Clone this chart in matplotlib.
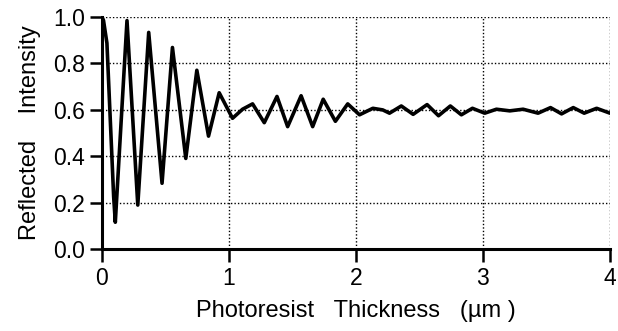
import matplotlib
matplotlib.use("Agg")
import matplotlib.pyplot as plt

# values (extrema and a few shoulder points)
thickness = [0.000, 0.012, 0.039, 0.092, 0.105, 0.197, 0.282, 0.368, 0.473,
             0.555, 0.660, 0.747, 0.839, 0.923, 1.028, 1.107, 1.186, 1.278,
             1.378, 1.462, 1.568, 1.659, 1.742, 1.838, 1.935, 2.028, 2.133,
             2.211, 2.264, 2.357, 2.450, 2.560, 2.650, 2.743, 2.830, 2.917,
             3.014, 3.106, 3.211, 3.316, 3.434, 3.532, 3.619, 3.711, 3.797,
             3.895, 4.000]
reflectance = [1.000, 0.985, 0.887, 0.225, 0.115, 0.984, 0.189, 0.933, 0.283,
               0.868, 0.390, 0.770, 0.486, 0.673, 0.563, 0.602, 0.625, 0.544,
               0.657, 0.527, 0.660, 0.527, 0.645, 0.550, 0.625, 0.578, 0.606,
               0.599, 0.585, 0.616, 0.580, 0.622, 0.574, 0.616, 0.578, 0.606,
               0.585, 0.602, 0.595, 0.602, 0.585, 0.609, 0.582, 0.609, 0.585,
               0.606, 0.585]

x_ticks = [0, 1, 2, 3, 4]
y_ticks = [0.0, 0.2, 0.4, 0.6, 0.8, 1.0]

plt.rcParams['font.family'] = ['Liberation Sans', 'DejaVu Sans']

fig = plt.figure(figsize=(6.18, 3.31), dpi=100)
ax = fig.add_axes([0.165, 0.248, 0.822, 0.701])

ax.plot(thickness, reflectance, color='black', lw=2.6,
        solid_joinstyle='round', solid_capstyle='round')

ax.set_xlim(0, 4)
ax.set_ylim(0, 1)
ax.set_xticks(x_ticks)
ax.set_yticks(y_ticks)
ax.set_yticklabels([f"{v:.1f}" for v in y_ticks])
ax.grid(True, color='black', linestyle=(0, (1, 1.5)), linewidth=1.0)

for side in ['top', 'right']:
    ax.spines[side].set_visible(False)
for side in ['left', 'bottom']:
    ax.spines[side].set_linewidth(2.2)

ax.tick_params(direction='out', length=9, width=1.8, labelsize=16.5)
ax.tick_params(axis='y', pad=3)
ax.tick_params(axis='x', pad=4)
ax.set_xlabel('Photoresist   Thickness   (\u00b5m )', fontsize=17, labelpad=7)
ax.set_ylabel('Reflected    Intensity', fontsize=17, labelpad=9)

fig.savefig('out.png', dpi=100)
